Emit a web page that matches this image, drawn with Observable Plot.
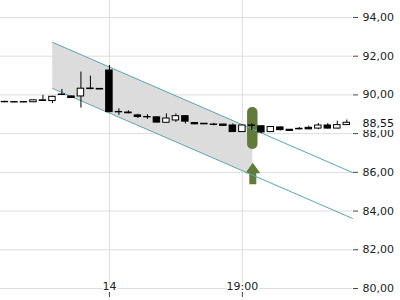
<!DOCTYPE html>
<html><head><meta charset="utf-8">
<script src="https://cdn.jsdelivr.net/npm/d3@7"></script>
<script src="https://cdn.jsdelivr.net/npm/@observablehq/plot@0.6"></script>
<style>
html,body{margin:0;padding:0;background:#fff;}
#chart svg{display:block;}
</style>
</head><body><div id="chart"></div>
<script>
// Candles (hourly bars, indexed left to right)
const opens  = [89.64,89.63,89.63,89.62,89.72,89.68,90.02,89.92,89.92,90.33,90.31,91.26,89.12,89.09,88.94,88.86,88.84,88.56,88.68,88.90,88.55,88.51,88.47,88.47,88.42,88.08,88.40,88.38,88.08,88.32,88.20,88.22,88.30,88.26,88.42,88.26,88.44];
const highs  = [89.67,89.66,89.66,89.74,89.98,89.93,90.28,89.93,91.18,90.97,90.32,91.52,89.28,89.18,89.00,88.98,88.86,89.02,89.02,88.92,88.56,88.52,88.53,88.48,88.50,88.44,88.51,88.40,88.36,88.34,88.21,88.32,88.38,88.52,88.52,88.64,88.70];
const lows   = [89.60,89.60,89.60,89.60,89.68,89.55,89.98,89.82,89.32,90.27,90.26,89.08,88.94,89.03,88.78,88.74,88.54,88.55,88.58,88.50,88.46,88.47,88.40,88.38,88.06,88.06,88.16,88.00,88.06,88.14,88.12,88.20,88.20,88.20,88.24,88.24,88.42];
const closes = [89.62,89.61,89.61,89.72,89.69,89.90,90.00,89.84,90.32,90.30,90.28,89.11,89.10,89.05,88.86,88.84,88.57,88.78,88.90,88.62,88.48,88.48,88.45,88.40,88.08,88.42,88.42,88.06,88.34,88.18,88.14,88.25,88.22,88.42,88.26,88.44,88.56];

const xTicks = [11, 25];
const xTickLabels = ["14", "19:00"];
const yTicks = [80, 82, 84, 86, 88, 90, 92, 94];
const lastPrice = 88.55;

// Trend channel
const channelX = [5.03, 36.6];
const channelUpper = [92.71, 85.99];
const channelLower = [90.33, 83.62];
const shadeX = [5.03, 26.1];
const shadeUpper = [92.71, 88.22];
const shadeLower = [90.33, 85.84];

// Signal marker
const signalIndex = 26.1;
const signalRange = [87.18, 89.35];
const arrowRange = [85.40, 86.51];

const candles = opens.map((o, i) => ({i, open: o, high: highs[i], low: lows[i], close: closes[i]}));
const upperLine = channelX.map((x, k) => ({x, y: channelUpper[k]}));
const lowerLine = channelX.map((x, k) => ({x, y: channelLower[k]}));
const shade = shadeX.map((x, k) => ({x, lo: shadeLower[k], hi: shadeUpper[k]}));
const signal = [{i: signalIndex, lo: signalRange[0], hi: signalRange[1]}];
const arrow = [{i: signalIndex, y: (arrowRange[0] + arrowRange[1]) / 2}];
const xLabels = xTicks.map((t, k) => ({t, label: xTickLabels[k]}));

const green = "#627a3a";
const teal = "#5ea6aa";

const arrowSymbol = {
  draw(context, size) {
    const r = Math.sqrt(size / Math.PI);
    context.moveTo(0, -1.05 * r);
    context.lineTo(0.75 * r, 0);
    context.lineTo(0.35 * r, 0);
    context.lineTo(0.35 * r, 1.1 * r);
    context.lineTo(-0.35 * r, 1.1 * r);
    context.lineTo(-0.35 * r, 0);
    context.lineTo(-0.75 * r, 0);
    context.closePath();
  }
};

const chart = Plot.plot({
  width: 400,
  height: 300,
  marginLeft: 0,
  marginRight: 48,
  marginTop: 0,
  marginBottom: 12,
  style: {fontFamily: "DejaVu Sans", fontSize: "11px", color: "#222", background: "#fff"},
  x: {domain: [-0.47, 36.6], axis: null},
  y: {domain: [80, 94.876], axis: null},
  marks: [
    Plot.gridY(yTicks, {stroke: "#dddddd", strokeOpacity: 1}),
    Plot.gridX(xTicks, {stroke: "#dddddd", strokeOpacity: 1}),
    Plot.areaY(shade, {x: "x", y1: "lo", y2: "hi", fill: "#dcdcdc"}),
    Plot.rect(signal, {x1: d => d.i - 0.55, x2: d => d.i + 0.55, y1: "lo", y2: "hi", rx: 5, fill: green}),
    Plot.dot(arrow, {x: "i", y: "y", r: 10, symbol: arrowSymbol, fill: green, stroke: "none"}),
    Plot.line(upperLine, {x: "x", y: "y", stroke: teal, strokeWidth: 1}),
    Plot.line(lowerLine, {x: "x", y: "y", stroke: teal, strokeWidth: 1}),
    Plot.ruleX(candles, {x: "i", y1: "low", y2: "high", stroke: "#000", strokeWidth: 1}),
    Plot.rect(candles, {
      x1: d => d.i - 0.34, x2: d => d.i + 0.34,
      y1: "open", y2: "close",
      fill: d => d.close >= d.open ? "#fff" : "#000",
      stroke: "#000", strokeWidth: 1
    }),
    Plot.axisY(yTicks, {
      anchor: "right", tickSize: 5, tickPadding: 5,
      tickFormat: d => d.toFixed(2).replace(".", ","),
      stroke: "#444"
    }),
    Plot.axisX(xTicks, {
      anchor: "bottom", tickSize: 5, dy: 4,
      text: null,
      stroke: "#444"
    }),
    Plot.text(xLabels, {
      x: "t", frameAnchor: "bottom", dy: 1,
      text: "label", fill: "#222", stroke: "#fff", strokeWidth: 3
    }),
    Plot.text([lastPrice], {
      y: d => d, frameAnchor: "right", dx: 10, textAnchor: "start",
      text: d => d.toFixed(2).replace(".", ","),
      fill: "#111", stroke: "#fff", strokeWidth: 6
    })
  ]
});
document.getElementById("chart").appendChild(chart);
</script>
</body></html>
